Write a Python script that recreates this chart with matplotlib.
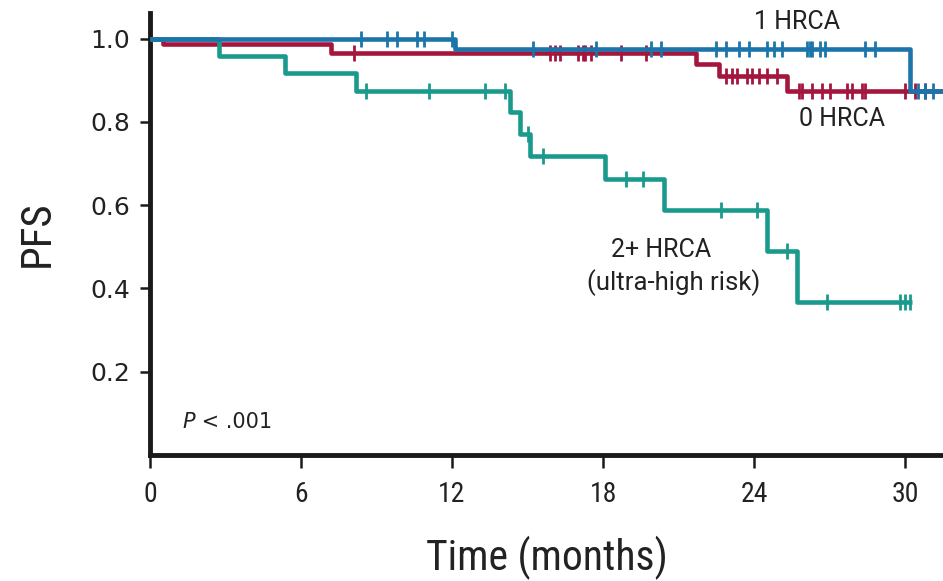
import numpy as np
import matplotlib
matplotlib.use("Agg")
import matplotlib.pyplot as plt
from matplotlib import font_manager as fm

# Kaplan-Meier curves (months, PFS after each drop)
t_one = [0, 12.1, 30.2]
s_one = [1.0, 0.976, 0.875]
c_one = [8.4, 9.4, 9.8, 10.6, 10.9, 12.0, 15.2, 17.7, 19.9, 20.3, 22.5, 22.9, 23.4,
         23.8, 24.5, 24.8, 25.1, 26.1, 26.2, 26.3, 26.6, 26.8, 28.4, 28.8, 30.5, 30.8, 31.1]
end_one = 31.6

t_zero = [0, 0.5, 7.2, 21.7, 22.6, 25.3]
s_zero = [1.0, 0.986, 0.966, 0.938, 0.909, 0.873]
c_zero = [8.1, 15.9, 16.1, 16.3, 17.0, 17.2, 17.3, 17.5, 18.7, 19.7, 22.9, 23.1, 23.3,
          23.7, 23.9, 24.2, 24.5, 24.9, 25.8, 25.9, 26.3, 26.7, 27.0, 27.7, 27.9, 28.3,
          28.4, 30.0, 30.4, 30.8]
end_zero = 31.6

t_two = [0, 2.74, 5.36, 8.2, 14.3, 14.7, 15.1, 18.06, 20.4, 24.5, 25.7]
s_two = [1.0, 0.958, 0.917, 0.875, 0.824, 0.772, 0.717, 0.662, 0.588, 0.490, 0.367]
c_two = [8.6, 11.1, 13.3, 14.1, 15.0, 15.6, 18.9, 19.6, 22.7, 24.1, 25.3, 26.9, 29.8, 30.0, 30.2]
end_two = 30.25

x_ticks = [0, 6, 12, 18, 24, 30]
y_ticks = [0.2, 0.4, 0.6, 0.8, 1.0]

col_one = "#1b74aa"
col_zero = "#a5163e"
col_two = "#1a9a8c"
ink = "#222222"


# a condensed sans for the axis text, whichever one is installed
def narrow_font(style="normal"):
    for f in fm.fontManager.ttflist:
        if f.name in ("Liberation Sans Narrow", "Roboto Condensed") and f.style == style and f.weight in (400, "normal", "regular"):
            return f.fname
    for f in fm.fontManager.ttflist:
        if f.stretch in ("condensed", "semi-condensed", 75, 87.5) and f.style == style and f.weight in (400, "normal", "regular", "book"):
            return f.fname
    return None


def fp(size, style="normal"):
    path = narrow_font(style)
    if path:
        return fm.FontProperties(fname=path, size=size)
    return fm.FontProperties(family="DejaVu Sans", size=size * 0.85, style=style)


def km(ax, t, s, cens, t_end, color, z):
    xs = list(t) + [t_end]
    ys = list(s) + [s[-1]]
    ax.step(xs, ys, where="post", color=color, lw=3.3, zorder=z, solid_capstyle="butt")
    idx = np.searchsorted(t, cens, side="right") - 1
    cy = np.array(s)[idx]
    ax.plot(cens, cy, ls="none", marker="|", ms=11, mew=2.0, color=color, zorder=z)


fig = plt.figure(figsize=(9.43, 5.81), dpi=100)
ax = fig.add_axes([0.159, 0.217, 0.841, 0.761])

km(ax, t_zero, s_zero, c_zero, end_zero, col_zero, 3)
km(ax, t_two, s_two, c_two, end_two, col_two, 4)
km(ax, t_one, s_one, c_one, end_one, col_one, 5)

ax.set_xlim(0, 31.5)
ax.set_ylim(0, 1.062)
ax.spines["top"].set_visible(False)
ax.spines["right"].set_visible(False)
for sp in ["left", "bottom"]:
    ax.spines[sp].set_linewidth(3.5)
    ax.spines[sp].set_color("#1a1a1a")

ax.set_xticks(x_ticks)
ax.set_xticklabels([str(v) for v in x_ticks], fontproperties=fp(20), color=ink)
ax.set_yticks(y_ticks)
ax.set_yticklabels([f"{v:.1f}" for v in y_ticks], family="DejaVu Sans", fontsize=18, color=ink)
ax.tick_params(axis="x", length=9, width=1.8, pad=10, color="#1a1a1a")
ax.tick_params(axis="y", length=7, width=1.8, pad=7, color="#1a1a1a")

ax.set_xlabel("Time (months)", fontproperties=fp(30), color=ink, labelpad=20)
ax.set_ylabel("PFS", fontproperties=fp(31), color=ink, labelpad=24)

lab = dict(family=["Roboto", "DejaVu Sans"], fontsize=18, color=ink, ha="center", va="center")
ax.text(25.7, 1.041, "1 HRCA", **lab)
ax.text(27.5, 0.808, "0 HRCA", **lab)
ax.text(20.3, 0.493, "2+ HRCA", **lab)
ax.text(20.8, 0.414, "(ultra-high risk)", fontsize=18.5,
        **{k: v for k, v in lab.items() if k != "fontsize"})

p = ax.text(1.3, 0.08, "P", family="DejaVu Sans", style="italic", fontsize=15, color=ink,
            va="center", ha="left")
ax.annotate(" < .001", xy=(1, 0), xycoords=p, va="bottom", ha="left",
            family="DejaVu Sans", fontsize=15, color=ink)

fig.savefig("out.png", dpi=100, facecolor="white")
